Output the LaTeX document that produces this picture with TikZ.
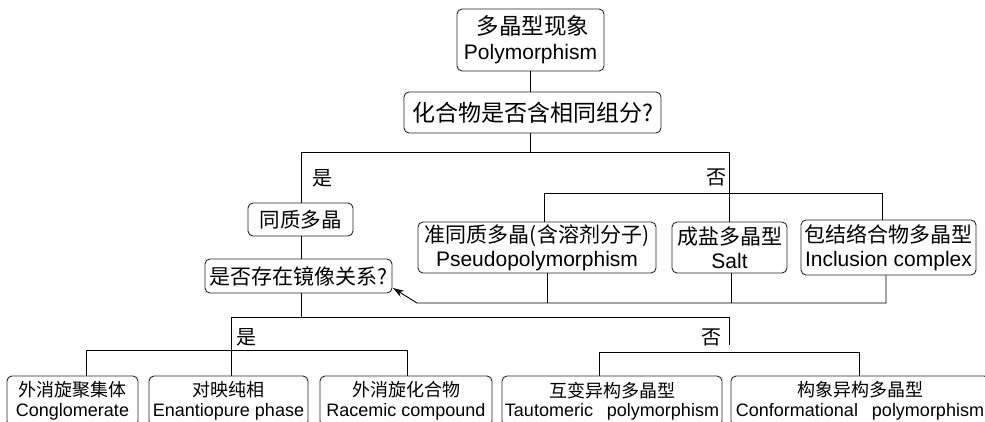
\documentclass[tikz,border=0pt]{standalone}
\usepackage{fontspec}
\setmainfont{Liberation Sans}
\newfontfamily\cjk{Noto Sans CJK SC}
\usetikzlibrary{arrows.meta}
\newcommand\setfs[2]{\fontsize{#1}{#2}\selectfont}
\tikzset{
  box/.style={draw=black!85, line width=0.9pt, rounded corners=5pt, inner sep=0pt, align=center},
  conn/.style={draw=black, line width=0.9pt},
  lbl/.style={font=\cjk\setfs{20}{24}, inner sep=0pt},
}
\begin{document}
\begin{tikzpicture}[x=1pt, y=-1pt]
\useasboundingbox (0,0) rectangle (985,421);
\clip (0,0) rectangle (985,421);
% nodes
\node[box, minimum width=147pt, minimum height=62pt, font=\setfs{21}{25}] (top) at (530.5,40) {{\cjk\setfs{22.5}{25} 多晶型现象}\\Polymorphism};
\node[box, minimum width=257pt, minimum height=41pt, font=\cjk\setfs{23}{27}] (q1) at (532.5,112.5) {化合物是否含相同组分?};
\node[box, minimum width=105pt, minimum height=33pt, font=\cjk\setfs{20.5}{24}] (same) at (300.5,219.5) {同质多晶};
\node[box, minimum width=187pt, minimum height=34pt, font=\cjk\setfs{21}{25}] (q2) at (298.5,276) {是否存在镜像关系?};
\node[box, minimum width=238pt, minimum height=51pt, font=\setfs{21}{24}] (pseudo) at (537,247.5) {{\cjk 准同质多晶(含溶剂分子)}\\Pseudopolymorphism};
\node[box, minimum width=115pt, minimum height=51pt, font=\setfs{21}{24}] (salt) at (729.5,247.5) {{\cjk 成盐多晶型}\\Salt};
\node[box, minimum width=175pt, minimum height=55pt, font=\setfs{21}{24}] (incl) at (888.5,247.5) {{\cjk 包结络合物多晶型}\\Inclusion complex};
\node[box, minimum width=131pt, minimum height=50pt, font=\setfs{18}{19.5}] (cong) at (72.5,401) {{\cjk 外消旋聚集体}\\Conglomerate};
\node[box, minimum width=159pt, minimum height=50pt, font=\setfs{18}{19.5}] (enan) at (228.5,401) {{\cjk 对映纯相}\\Enantiopure phase};
\node[box, minimum width=172pt, minimum height=50pt, font=\setfs{18}{19.5}] (race) at (406,401) {{\cjk 外消旋化合物}\\Racemic compound};
\node[box, minimum width=220pt, minimum height=50pt, font=\setfs{18}{19.5}] (taut) at (612,401) {{\cjk 互变异构多晶型}\\Tautomeric\hspace{0.5em} polymorphism};
\node[box, minimum width=258pt, minimum height=50pt, font=\setfs{18}{19.5}] (conf) at (860,401) {{\cjk 构象异构多晶型}\\Conformational\hspace{0.5em} polymorphism};
% labels
\node[lbl] (yes1) at (322,178) {是};
\node[lbl] (no1) at (716,177) {否};
\node[lbl] (yes2) at (246,337) {是};
\node[lbl] (no2) at (711,337) {否};
% coordinates
\coordinate (j1) at (530,152);
\coordinate (yl) at (301,152);
\coordinate (nr) at (729,152);
\coordinate (h1) at (544,193);
\coordinate (h2) at (882,193);
\coordinate (j2) at (301,317);
\coordinate (b1) at (231,317);
\coordinate (b2) at (729,317);
\coordinate (b3) at (729,345);
\coordinate (c1) at (86,350);
\coordinate (c2) at (407,350);
\coordinate (d1) at (599,352);
\coordinate (d2) at (859,352);
\coordinate (e0) at (417,303);
\coordinate (e1) at (547,303);
\coordinate (e2) at (731,303);
\coordinate (e3) at (886,303);
\coordinate (tip) at (393,288);
% connectors
\draw[conn] (top.south) -- (top.south |- q1.north);
\draw[conn] (q1.south -| j1) -- (j1);
\draw[conn] (same.north -| yl) |- (nr) -- (nr |- salt.north);
\draw[conn] (h1 |- pseudo.north) -- (h1) -- (h2) -- (h2 |- incl.north);
\draw[conn] (same.south -| yl) -- (q2.north -| yl);
\draw[conn] (q2.south -| j2) -- (j2);
\draw[conn] (b1 |- enan.north) -- (b1) -- (b2) -- (b3);
\draw[conn] (c1 |- cong.north) -- (c1) -- (c2) -- (c2 |- race.north);
\draw[conn] (d1 |- taut.north) -- (d1) -- (d2) -- (d2 |- conf.north);
\draw[conn] (e1 |- pseudo.south) -- (e1);
\draw[conn] (e2 |- salt.south) -- (e2);
\draw[conn, -{Stealth[length=11pt, width=7pt]}] (e3 |- incl.south) -- (e3) -- (e0) -- (tip);
\end{tikzpicture}
\end{document}
